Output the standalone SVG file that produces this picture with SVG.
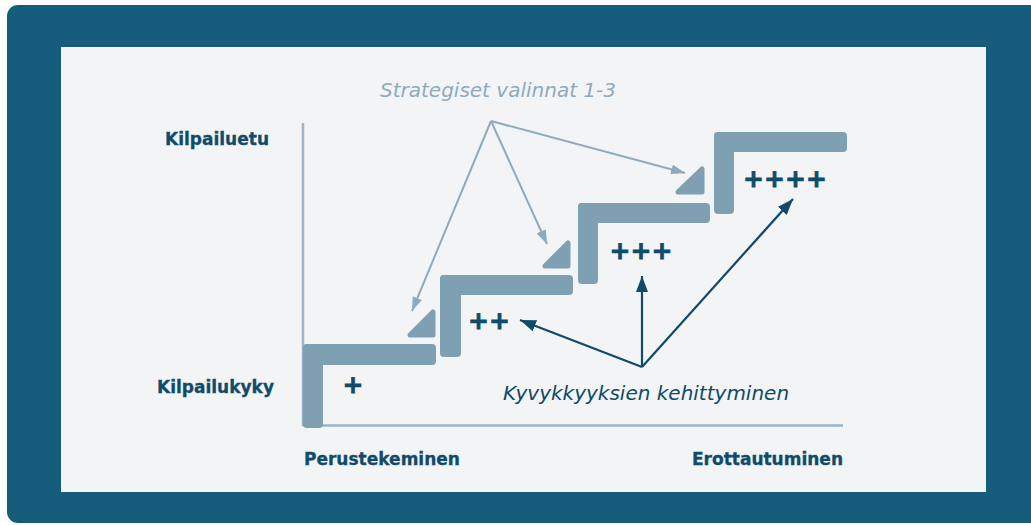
<svg xmlns="http://www.w3.org/2000/svg" width="1031" height="525" viewBox="0 0 1031 525">
<style>
.step{fill:#7f9fb3}
.tri{fill:#7f9fb3;stroke:#7f9fb3;stroke-width:5;stroke-linejoin:round}
.lbl{font-family:"DejaVu Sans",Verdana,sans-serif;font-weight:bold;font-size:17px;fill:#114b6a;stroke:#114b6a;stroke-width:0.3}
.plus{font-family:"DejaVu Sans",Verdana,sans-serif;font-weight:bold;font-size:25px;fill:#114b6a;stroke:#114b6a;stroke-width:0.8}
.ital{font-family:"DejaVu Sans",Verdana,sans-serif;font-style:italic;font-size:20px}
.la{stroke:#8eabbd;stroke-width:2;fill:none}
.da{stroke:#0f4a68;stroke-width:2.2;fill:none}
</style>
<defs>
<marker id="ml" viewBox="0 0 14 10" refX="14" refY="5" markerWidth="14" markerHeight="10" markerUnits="userSpaceOnUse" orient="auto">
<path d="M0,0 L14,5 L0,10 Z" fill="#8eabbd"/>
</marker>
<marker id="md" viewBox="0 0 16 12" refX="16" refY="6" markerWidth="16" markerHeight="12" markerUnits="userSpaceOnUse" orient="auto">
<path d="M0,0 L16,6 L0,12 Z" fill="#0f4a68"/>
</marker>
</defs>
<rect x="7" y="5" width="1040" height="518" rx="11" fill="#155d7a"/>
<rect x="61" y="47" width="925" height="445" fill="#f3f4f5"/>
<g id="axes">
<line x1="303" y1="123" x2="303" y2="426" stroke="#9db5c4" stroke-width="2.5"/>
<line x1="303" y1="425.5" x2="843" y2="425.5" stroke="#9db5c4" stroke-width="2.5"/>
</g>
<g id="step1">
<rect class="step" x="303" y="344" width="133" height="21" rx="4"/>
<rect class="step" x="303" y="344" width="20" height="84" rx="4"/>
<path class="tri" d="M410,335 L433,312 L433,335 Z"/>
<text class="plus" x="353" y="393" text-anchor="middle">+</text>
</g>
<g id="step2">
<rect class="step" x="440" y="275" width="133" height="20" rx="4"/>
<rect class="step" x="440" y="275" width="21" height="82" rx="4"/>
<path class="tri" d="M545,266 L568,243 L568,266 Z"/>
<text class="plus" x="489" y="329" text-anchor="middle">++</text>
</g>
<g id="step3">
<rect class="step" x="578" y="203" width="132" height="20" rx="4"/>
<rect class="step" x="578" y="203" width="20" height="81" rx="4"/>
<path class="tri" d="M678,192 L702,169 L702,192 Z"/>
<text class="plus" x="641" y="259" text-anchor="middle">+++</text>
</g>
<g id="step4">
<rect class="step" x="714" y="132" width="133" height="20" rx="4"/>
<rect class="step" x="714" y="132" width="20" height="82" rx="4"/>
<text class="plus" x="785" y="187" text-anchor="middle">++++</text>
</g>
<g id="labels">
<text class="lbl" x="165" y="145">Kilpailuetu</text>
<text class="lbl" x="157" y="393">Kilpailukyky</text>
<text class="lbl" x="304" y="465">Perustekeminen</text>
<text class="lbl" x="843" y="465" text-anchor="end">Erottautuminen</text>
<text class="ital" x="498" y="97" text-anchor="middle" fill="#8eabbd">Strategiset valinnat 1-3</text>
<text class="ital" x="646" y="400" text-anchor="middle" fill="#0f4a68">Kyvykkyyksien kehittyminen</text>
</g>
<g id="connectors">
<line class="la" x1="491" y1="121" x2="412" y2="311" marker-end="url(#ml)"/>
<line class="la" x1="491" y1="121" x2="547" y2="244" marker-end="url(#ml)"/>
<line class="la" x1="491" y1="121" x2="685" y2="173" marker-end="url(#ml)"/>
<line class="da" x1="642" y1="367" x2="520" y2="320" marker-end="url(#md)"/>
<line class="da" x1="642" y1="367" x2="642" y2="276" marker-end="url(#md)"/>
<line class="da" x1="642" y1="367" x2="793" y2="199" marker-end="url(#md)"/>
</g>
</svg>
